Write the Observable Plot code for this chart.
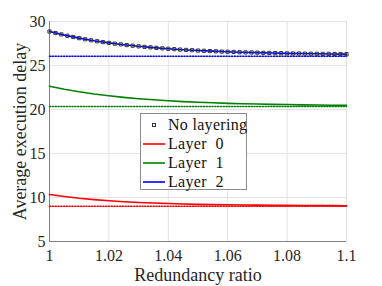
<!DOCTYPE html>
<html>
<head>
<meta charset="utf-8">
<script src="https://cdn.jsdelivr.net/npm/d3@7"></script>
<script src="https://cdn.jsdelivr.net/npm/@observablehq/plot@0.6"></script>
<style>
  html, body { margin: 0; padding: 0; background: #fff; }
  #wrap { position: relative; width: 382px; height: 286px; }
  #chart svg text { font-family: "Liberation Serif", "Times New Roman", serif; }
  #chart svg g[aria-label="x-axis label"] text, #chart svg g[aria-label="y-axis label"] text { font-size: 18px; }
  #legend {
    position: absolute; left: 140px; top: 113px; width: 107px; height: 77px;
    background: #fff; border: 1px solid #8c8c8c; box-sizing: border-box;
    font-family: "Liberation Serif", "Times New Roman", serif; font-size: 16px; color: #111;
  }
  .row { position: absolute; left: 0; height: 17px; line-height: 17px; display: flex; align-items: center; white-space: pre; }
  .row span { line-height: 17px; letter-spacing: 0.3px; }
  .row svg { margin-left: 2px; margin-right: 3px; }
</style>
</head>
<body>
<div id="wrap"><div id="chart"></div><div id="legend"></div></div>
<script>
// x values for the curves (step 0.005)
const xLine = [1.000,1.005,1.010,1.015,1.020,1.025,1.030,1.035,1.040,1.045,1.050,1.055,1.060,1.065,1.070,1.075,1.080,1.085,1.090,1.095,1.100];
const layer0 = [10.34,10.11,9.91,9.76,9.63,9.52,9.44,9.37,9.31,9.26,9.22,9.19,9.17,9.15,9.13,9.11,9.10,9.09,9.09,9.08,9.07];
const layer1 = [22.65,22.30,22.01,21.76,21.56,21.38,21.23,21.10,20.99,20.90,20.83,20.76,20.70,20.66,20.62,20.58,20.56,20.53,20.51,20.49,20.48];
const layer2 = [28.86,28.45,28.11,27.81,27.57,27.36,27.18,27.03,26.90,26.79,26.70,26.63,26.56,26.50,26.46,26.42,26.38,26.36,26.33,26.31,26.29];
// lower bounds (dotted)
const bounds = [9.0, 20.33, 26.05];
// no layering markers (step 0.002)
const xMark = [1.000,1.002,1.004,1.006,1.008,1.010,1.012,1.014,1.016,1.018,1.020,1.022,1.024,1.026,1.028,1.030,1.032,1.034,1.036,1.038,1.040,1.042,1.044,1.046,1.048,1.050,1.052,1.054,1.056,1.058,1.060,1.062,1.064,1.066,1.068,1.070,1.072,1.074,1.076,1.078,1.080,1.082,1.084,1.086,1.088,1.090,1.092,1.094,1.096,1.098,1.100];
const noLayer = [28.86,28.69,28.53,28.38,28.24,28.11,27.98,27.87,27.76,27.66,27.57,27.48,27.40,27.32,27.25,27.18,27.12,27.06,27.00,26.95,26.90,26.86,26.81,26.77,26.74,26.70,26.67,26.64,26.61,26.58,26.56,26.54,26.51,26.49,26.48,26.46,26.44,26.43,26.41,26.40,26.38,26.37,26.36,26.35,26.34,26.33,26.32,26.32,26.31,26.30,26.29];
const xTicks = [1, 1.02, 1.04, 1.06, 1.08, 1.1];
const yTicks = [5, 10, 15, 20, 25, 30];
const seriesNames = ["Layer  0", "Layer  1", "Layer  2"];
const colors = ["#ff0000", "#008000", "#0000ff"];

const seriesVals = [layer0, layer1, layer2];
const lineData = seriesVals.flatMap((vals, s) => vals.map((v, i) => ({x: xLine[i], y: v, s})));
const boundData = bounds.flatMap((b, s) => [{x: xLine[0], y: b, s}, {x: xLine[xLine.length - 1], y: b, s}]);
const markData = noLayer.map((v, i) => ({x: xMark[i], y: v}));

const chart = Plot.plot({
  width: 382, height: 286,
  marginLeft: 49, marginRight: 36, marginTop: 21, marginBottom: 45,
  style: {fontFamily: "'Liberation Serif', 'Times New Roman', serif", fontSize: "16px", color: "#262626", background: "#fff"},
  x: {domain: [1, 1.1], ticks: xTicks, tickFormat: d => String(+d.toFixed(2)), tickSize: 0, tickPadding: 8,
      label: "Redundancy ratio", labelAnchor: "center", labelArrow: "none", labelOffset: 39},
  y: {domain: [5, 30], ticks: yTicks, tickSize: 0, tickPadding: 4,
      label: "Average execution delay", labelAnchor: "center", labelArrow: "none", labelOffset: 36},
  marks: [
    Plot.gridX(xTicks, {stroke: "#e3e3e3", strokeOpacity: 1}),
    Plot.gridY(yTicks, {stroke: "#e3e3e3", strokeOpacity: 1}),
    Plot.frame({stroke: "#e0e0e0"}),
    Plot.ruleX([1], {stroke: "#808080"}),
    Plot.ruleY([5], {stroke: "#808080"}),
    Plot.line(boundData, {x: "x", y: "y", z: "s", stroke: d => colors[d.s], strokeWidth: 1.5, strokeDasharray: "1.2,1.6"}),
    Plot.line(lineData, {x: "x", y: "y", z: "s", stroke: d => colors[d.s], strokeWidth: 1.6}),
    Plot.dot(markData, {x: "x", y: "y", symbol: "square", r: 1.8, fill: "none", stroke: "#333", strokeWidth: 1})
  ]
});
document.getElementById("chart").appendChild(chart);

// legend
const legend = document.getElementById("legend");
const rowsTop = [2, 21, 40, 59];
const items = [{name: "No layering", marker: true}].concat(seriesNames.map((n, i) => ({name: n, color: colors[i]})));
items.forEach((it, i) => {
  const row = document.createElement("div");
  row.className = "row";
  row.style.top = rowsTop[i] + "px";
  const sample = it.marker
    ? `<svg width="22" height="10"><rect x="9.5" y="3.5" width="3" height="3" fill="none" stroke="#333" stroke-width="1"/></svg>`
    : `<svg width="22" height="10"><line x1="0" y1="5" x2="22" y2="5" stroke="${it.color}" stroke-width="1.6"/></svg>`;
  row.innerHTML = sample + `<span>${it.name}</span>`;
  legend.appendChild(row);
});
</script>
</body>
</html>
